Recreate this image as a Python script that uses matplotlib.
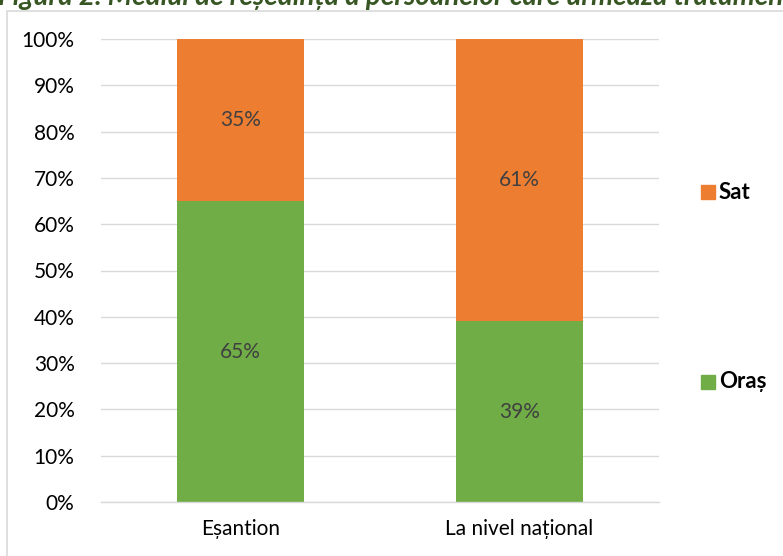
import matplotlib
matplotlib.use("Agg")
import matplotlib.pyplot as plt
from matplotlib.patches import Rectangle
import numpy as np

plt.rcParams['font.family'] = ['Lato', 'DejaVu Sans']

categories = ['Eșantion', 'La nivel național']
oras = [65, 39]
sat = [35, 61]
title = 'Figura 2. Mediul de reședință a persoanelor care urmează tratamentul'

green = '#70AD47'
orange = '#ED7D31'
W, H = 783, 556

fig = plt.figure(figsize=(W / 100, H / 100), dpi=100)
ax = fig.add_axes([101 / W, 1 - 502 / H, (659 - 101) / W, (502 - 39) / H])

ind = np.arange(len(categories))
width = 0.455
p_oras = ax.bar(ind, oras, width, color=green, zorder=3)
p_sat = ax.bar(ind, sat, width, bottom=oras, color=orange, zorder=3)

# value labels in the middle of each segment
for i in ind:
    ax.text(i, oras[i] / 2, f'{oras[i]}%', ha='center', va='center', fontsize=15, color='#404040', zorder=4)
    ax.text(i, oras[i] + sat[i] / 2, f'{sat[i]}%', ha='center', va='center', fontsize=15, color='#404040', zorder=4)

ax.set_xlim(-0.5, 1.5)
ax.set_ylim(0, 100)
ax.set_yticks(np.arange(0, 101, 10))
ax.set_yticklabels([f'{v}%' for v in range(0, 101, 10)])
ax.set_xticks(ind)
ax.set_xticklabels(categories)
ax.tick_params(axis='both', length=0, labelsize=15, colors='#000000')
ax.tick_params(axis='y', pad=19)
ax.tick_params(axis='x', pad=12)
ax.grid(axis='y', color='#D9D9D9', linewidth=1, zorder=0)
for s in ['top', 'right', 'left']:
    ax.spines[s].set_visible(False)
ax.spines['bottom'].set_color('#D9D9D9')
ax.spines['bottom'].set_linewidth(1)
ax.spines['bottom'].set_zorder(5)

# legend entries placed beside the bars they describe
for name, color, ypix in [('Sat', orange, 192), ('Oraș', green, 382)]:
    fig.patches.append(Rectangle((701 / W, 1 - (ypix + 7) / H), 14 / W, 14 / H,
                                 transform=fig.transFigure, color=color))
    fig.text(719 / W, 1 - ypix / H, name, fontsize=16, fontweight='bold', va='center', ha='left')

# chart frame
fig.patches.append(Rectangle((7 / W, -0.05), 1.0, 1 - 11 / H + 0.05, transform=fig.transFigure,
                             fill=False, edgecolor='#D9D9D9', linewidth=1.2))

fig.text(-2 / W, 1 - 5 / H, title, fontsize=20, fontweight='bold', style='italic',
         color='#375623', ha='left', va='baseline')

fig.savefig('out.png', dpi=100)
